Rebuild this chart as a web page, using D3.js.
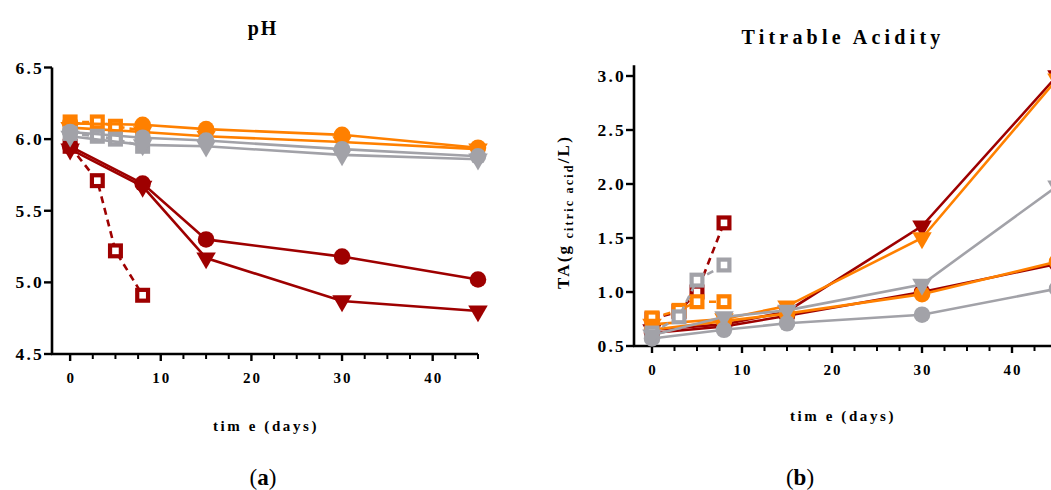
<!DOCTYPE html>
<html>
<head>
<meta charset="utf-8">
<script src="https://cdn.jsdelivr.net/npm/d3@7"></script>
<style>
  body { margin: 0; background: #fff; }
  svg { display: block; }
  text { font-family: "Liberation Serif", "Times New Roman", serif; }
</style>
</head>
<body>
<svg id="chart" width="1051" height="490"></svg>
<script>

//////////////////////
// Data
//////////////////////

var daysLong = [0, 8, 15, 30, 45];
var daysShort = [0, 3, 5, 8];

// pH (panel a)
var phRedCircle    = [5.95, 5.69, 5.30, 5.18, 5.02];
var phRedTriangle  = [5.93, 5.67, 5.17, 4.87, 4.80];
var phRedSquare    = [5.95, 5.71, 5.22, 4.91];
var phOrgCircle    = [6.11, 6.10, 6.07, 6.03, 5.94];
var phOrgTriangle  = [6.08, 6.05, 6.02, 5.98, 5.93];
var phOrgSquare    = [6.12, 6.12, 6.09, 6.06];
var phGreyCircle   = [6.05, 6.01, 5.99, 5.93, 5.88];
var phGreyTriangle = [6.02, 5.96, 5.95, 5.89, 5.86];
var phGreySquare   = [6.04, 6.02, 6.00, 5.95];

// Titrable acidity (panel b)
var taRedCircle    = [0.62, 0.68, 0.78, 1.00, 1.26];
var taRedTriangle  = [0.65, 0.70, 0.82, 1.61, 3.00];
var taRedSquare    = [0.75, 0.82, 1.00, 1.64];
var taOrgCircle    = [0.65, 0.73, 0.80, 0.98, 1.28];
var taOrgTriangle  = [0.70, 0.75, 0.87, 1.50, 2.97];
var taOrgSquare    = [0.76, 0.83, 0.91, 0.91];
var taGreyCircle   = [0.57, 0.65, 0.71, 0.79, 1.03];
var taGreyTriangle = [0.60, 0.77, 0.83, 1.07, 1.98];
var taGreySquare   = [0.62, 0.77, 1.11, 1.25];

var phTicks = [4.5, 5.0, 5.5, 6.0, 6.5];
var taTicks = [0.5, 1.0, 1.5, 2.0, 2.5, 3.0];
var dayTicks = [0, 10, 20, 30, 40];

var RED = "#9e0000", ORANGE = "#ff8000", GREY = "#a2a2a8";

var svg = d3.select("#chart");

//////////////////////
// Panel helper
//////////////////////

function drawPanel(cfg) {

    var g = svg.append("g").attr("class", "panel");

    var x = d3.scaleLinear().domain([-2, 45]).range(cfg.xRange);
    var y = d3.scaleLinear().domain(cfg.yDomain).range(cfg.yRange);

    // x axis: major + minor ticks
    var minor = d3.range(2.5, 45.1, 2.5).filter(function(d) { return d % 10 !== 0; });
    var xAxis = g.append("g").attr("transform", "translate(0," + cfg.yRange[0] + ")");
    xAxis.append("line")
        .attr("x1", cfg.xRange[0] - 1).attr("x2", x(45))
        .attr("stroke", "#000").attr("stroke-width", 2.6);
    xAxis.selectAll(".minor").data(minor).enter().append("line")
        .attr("x1", function(d) { return x(d); }).attr("x2", function(d) { return x(d); })
        .attr("y1", 0).attr("y2", 5)
        .attr("stroke", "#000").attr("stroke-width", 2);
    xAxis.selectAll(".major").data(dayTicks).enter().append("line")
        .attr("x1", function(d) { return x(d); }).attr("x2", function(d) { return x(d); })
        .attr("y1", 0).attr("y2", 7)
        .attr("stroke", "#000").attr("stroke-width", 2.4);
    xAxis.selectAll("text").data(dayTicks).enter().append("text")
        .attr("x", function(d) { return x(d) + 1; })
        .attr("y", 29)
        .attr("text-anchor", "middle")
        .attr("font-size", 15).attr("font-weight", "bold")
        .attr("letter-spacing", 2)
        .text(function(d) { return d; });

    // y axis
    var yAxis = g.append("g").attr("transform", "translate(" + cfg.xRange[0] + ",0)");
    yAxis.append("line")
        .attr("y1", y(cfg.yDomain[1])).attr("y2", cfg.yRange[0] + 1)
        .attr("stroke", "#000").attr("stroke-width", 2.6);
    yAxis.selectAll(".tick").data(cfg.yTicks).enter().append("line")
        .attr("x1", -8).attr("x2", 0)
        .attr("y1", function(d) { return y(d); }).attr("y2", function(d) { return y(d); })
        .attr("stroke", "#000").attr("stroke-width", 2.4);
    yAxis.selectAll("text").data(cfg.yTicks).enter().append("text")
        .attr("x", -8)
        .attr("y", function(d) { return y(d) + 6; })
        .attr("text-anchor", "end")
        .attr("font-size", 17.5).attr("font-weight", "bold")
        .attr("letter-spacing", 2.2)
        .text(function(d) { return d.toFixed(1); });

    // series
    var line = d3.line()
        .x(function(d) { return x(d[0]); })
        .y(function(d) { return y(d[1]); });

    cfg.series.forEach(function(s) {
        var pts = d3.zip(s.days, s.values);
        var sg = g.append("g");
        sg.append("path")
            .attr("d", line(pts))
            .attr("fill", "none")
            .attr("stroke", s.color)
            .attr("stroke-width", 2.6)
            .attr("stroke-dasharray", s.shape === "square" ? "7,5" : null);

        if (s.shape === "square") {
            sg.selectAll("rect").data(pts).enter().append("rect")
                .attr("x", function(d) { return x(d[0]) - 5.4; })
                .attr("y", function(d) { return y(d[1]) - 5.4; })
                .attr("width", 10.8).attr("height", 10.8)
                .attr("fill", "#fff")
                .attr("stroke", s.color).attr("stroke-width", 4.2);
        } else {
            var sym = d3.symbol()
                .type(s.shape === "circle" ? d3.symbolCircle : d3.symbolTriangle)
                .size(s.shape === "circle" ? 215 : 165);
            sg.selectAll(".m").data(pts).enter().append("path")
                .attr("d", sym)
                .attr("transform", function(d) {
                    var t = "translate(" + x(d[0]) + "," + y(d[1]) + ")";
                    return s.shape === "circle" ? t : t + " rotate(180)";
                })
                .attr("fill", s.color);
        }
    });

    // titles
    g.append("text")
        .attr("x", cfg.titleX).attr("y", cfg.titleY)
        .attr("text-anchor", "middle")
        .attr("font-size", 20).attr("font-weight", "bold")
        .attr("letter-spacing", cfg.titleSpacing)
        .text(cfg.title);

    g.append("text")
        .attr("x", cfg.xLabelX).attr("y", cfg.xLabelY)
        .attr("text-anchor", "middle")
        .attr("font-size", 15).attr("font-weight", "bold")
        .attr("letter-spacing", 2.6)
        .text("tim e (days)");

    var cap = g.append("text")
        .attr("x", cfg.capX).attr("y", 485)
        .attr("text-anchor", "middle")
        .attr("font-size", 23);
    cap.append("tspan").text("(");
    cap.append("tspan").attr("font-weight", "bold").text(cfg.cap);
    cap.append("tspan").text(")");

    return { x: x, y: y, g: g };
}

function makeSeries(r, o, gr) {
    // r/o/gr: [circle, triangle, square] per colour
    var out = [];
    [[r, RED], [o, ORANGE], [gr, GREY]].forEach(function(c) {
        out.push({ days: daysShort, values: c[0][2], shape: "square", color: c[1] });
        out.push({ days: daysLong, values: c[0][0], shape: "circle", color: c[1] });
        out.push({ days: daysLong, values: c[0][1], shape: "triangle", color: c[1] });
    });
    return out;
}

//////////////////////
// Panel a: pH
//////////////////////

drawPanel({
    xRange: [52, 478],
    yDomain: [4.5, 6.5],
    yRange: [354, 67.5],
    yTicks: phTicks,
    title: "pH",
    titleX: 263, titleY: 35, titleSpacing: 2,
    xLabelX: 266, xLabelY: 431,
    capX: 263,
    cap: "a",
    series: makeSeries(
        [phRedCircle, phRedTriangle, phRedSquare],
        [phOrgCircle, phOrgTriangle, phOrgSquare],
        [phGreyCircle, phGreyTriangle, phGreySquare])
});

//////////////////////
// Panel b: Titrable acidity
//////////////////////

var pb = drawPanel({
    xRange: [634, 1057],
    yDomain: [0.5, 3.1],
    yRange: [346, 65.2],
    yTicks: taTicks,
    title: "Titrable Acidity",
    titleX: 843, titleY: 44, titleSpacing: 4.2,
    xLabelX: 843, xLabelY: 421,
    capX: 800,
    cap: "b",
    series: makeSeries(
        [taRedCircle, taRedTriangle, taRedSquare],
        [taOrgCircle, taOrgTriangle, taOrgSquare],
        [taGreyCircle, taGreyTriangle, taGreySquare])
});

// y label of panel b with subscript
var yl = pb.g.append("text")
    .attr("transform", "translate(569,212) rotate(-90)")
    .attr("text-anchor", "middle")
    .attr("font-size", 17).attr("font-weight", "bold")
    .attr("letter-spacing", 2.2);
yl.append("tspan").text("TA(g");
yl.append("tspan").attr("font-size", 12).attr("dy", 4).text(" citric acid");
yl.append("tspan").attr("dy", -4).text("/L)");

</script>
</body>
</html>
